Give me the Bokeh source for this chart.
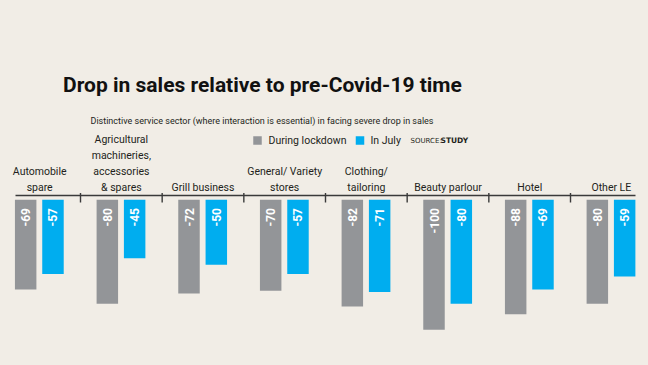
import re
import numpy as np
from bokeh.plotting import figure
from bokeh.models import Range1d, ColumnDataSource
from bokeh.core.properties import value
from bokeh.embed import file_html
from bokeh.resources import INLINE

# ---------------- data ----------------
categories = ["Automobile\nspare", "Agricultural\nmachineries,\naccessories\n& spares",
              "Grill business", "General/ Variety\nstores", "Clothing/\ntailoring",
              "Beauty parlour", "Hotel", "Other LE"]
during_lockdown = [-69, -80, -72, -70, -82, -100, -88, -80]
in_july = [-57, -45, -50, -57, -71, -80, -69, -59]
series_names = ["During lockdown", "In July"]

title_text = "Drop in sales relative to pre-Covid-19 time"
subtitle_text = "Distinctive service sector (where interaction is essential) in facing severe drop in sales"

# ---------------- style ----------------
BG = "#f1ede6"
GRAY = "#939598"
BLUE = "#00adef"
INK = "#231f20"
FONT = "Roboto"

W, H = 648, 365
X0, X1 = 0.0204, 7.955
Y0, Y1 = -127.46, 153.3

def px(xp):  # page pixel x -> data x
    return X0 + xp / W * (X1 - X0)

def py(yp):  # page pixel y -> data y
    return Y1 - yp / H * (Y1 - Y0)

p = figure(width=W, height=H, x_range=Range1d(X0, X1), y_range=Range1d(Y0, Y1),
           output_backend="svg", toolbar_location=None, min_border=0)
p.axis.visible = False
p.grid.visible = False
p.outline_line_color = None
p.background_fill_color = BG
p.border_fill_color = BG

n = len(categories)
centers = np.arange(n) + 0.5
off_g, off_b, bw = -0.1714, 0.163, 0.263

src = ColumnDataSource(dict(
    xg=centers + off_g, xb=centers + off_b,
    g=during_lockdown, b=in_july,
    gl=[str(v) for v in during_lockdown], bl=[str(v) for v in in_july],
))
p.vbar(x="xg", top=0, bottom="g", width=bw, fill_color=GRAY, line_color=None, source=src)
p.vbar(x="xb", top=0, bottom="b", width=bw, fill_color=BLUE, line_color=None, source=src)

lab_y = py(207.5)
for xcol, tcol in (("xg", "gl"), ("xb", "bl")):
    p.text(x=xcol, y=lab_y, text=tcol, source=src, angle=np.pi / 2,
           text_align="right", text_baseline="middle", text_color="white",
           text_font=value(FONT), text_font_size="12px", text_font_style="bold")

# axis line with category separators
p.line(x=[px(15), px(635)], y=[py(195), py(195)], line_color="#3a3a3a", line_width=1.6)
bounds = np.arange(1, n)
p.segment(x0=bounds, x1=bounds, y0=py(192.5), y1=py(202), line_color="#3a3a3a", line_width=1.4)

# category labels
p.text(x=centers, y=py(193.5), text=categories, text_align="center", text_baseline="bottom",
       text_color=INK, text_font=value(FONT), text_font_size="10.5px", text_line_height=1.22)

# title and subtitle
p.text(x=[px(262)], y=[py(84)], text=[title_text], text_align="center", text_baseline="middle",
       text_color="#111111", text_font=value(FONT), text_font_size="21px", text_font_style="bold")
p.text(x=[px(261.5)], y=[py(120)], text=[subtitle_text], text_align="center", text_baseline="middle",
       text_color=INK, text_font=value(FONT), text_font_size="9px")

# legend
p.rect(x=[px(257), px(359.5)], y=[py(140), py(140)], width=8.5, height=8.5,
       width_units="screen", height_units="screen", fill_color=[GRAY, BLUE], line_color=None)
p.text(x=[px(268), px(370)], y=[py(140), py(140)], text=series_names, text_align="left",
       text_baseline="middle", text_color=INK, text_font=value(FONT), text_font_size="10.5px")
p.text(x=[px(410)], y=[py(140)], text=["SOURCE:"], text_align="left", text_baseline="middle",
       text_color=INK, text_font=value("DejaVu Sans"), text_font_size="7px")
p.text(x=[px(440)], y=[py(140)], text=["STUDY"], text_align="left", text_baseline="middle",
       text_color=INK, text_font=value("DejaVu Sans"), text_font_size="7.5px", text_font_style="bold")

html = file_html(p, INLINE)
style = "<style>html, body { background: %s !important; margin: 0 !important; overflow: hidden; }</style>" % BG
html = re.sub(r"</head>", style + "</head>", html, count=1)
open("out.html", "w").write(html)
